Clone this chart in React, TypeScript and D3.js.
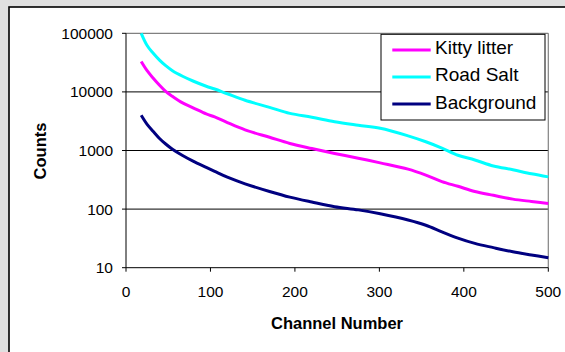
import React from "react";
import * as d3 from "d3";

const channels = [18, 25, 32, 40, 47, 55, 67, 80, 95, 105, 120, 141, 170, 194, 220, 247, 275, 301, 334, 355, 374, 393, 413, 435, 458, 480, 500];
const kittyLitter = [33000, 23000, 17300, 12900, 10200, 8400, 6500, 5300, 4200, 3750, 3000, 2250, 1680, 1320, 1080, 890, 740, 615, 480, 380, 295, 245, 200, 172, 148, 135, 125];
const roadSalt = [100000, 62000, 46000, 34500, 28000, 23000, 18500, 15200, 12500, 11200, 9300, 7200, 5450, 4300, 3700, 3100, 2700, 2400, 1780, 1410, 1100, 830, 690, 545, 470, 400, 355];
const background = [4000, 2800, 2140, 1590, 1290, 1050, 820, 650, 515, 440, 350, 270, 200, 160, 132, 110, 97, 83, 65, 53, 41, 32, 26, 22, 18.7, 16.5, 14.8];

const seriesNames = ["Kitty litter", "Road Salt", "Background"];
const seriesColors = ["#FF00FF", "#00FFFF", "#000080"];
const seriesValues = [kittyLitter, roadSalt, background];

const xTicks = [0, 100, 200, 300, 400, 500];
const yTicks = [10, 100, 1000, 10000, 100000];

const W = 565;
const H = 352;
const font = "Liberation Sans, Arial, sans-serif";

export default function App() {
  const x = d3.scaleLinear().domain([0, 500]).range([126, 548.3]);
  const y = d3.scaleLog().domain([10, 100000]).range([267.7, 33.3]);

  const line = d3
    .line<[number, number]>()
    .x((d) => x(d[0]))
    .y((d) => y(d[1]))
    .curve(d3.curveCatmullRom.alpha(0.5));

  const [x0, x1] = x.range();
  const [yb, yt] = y.range();

  return (
    <svg
      width={W}
      height={H}
      style={{ position: "absolute", left: 0, top: 0, display: "block" }}
    >
      <rect x={0} y={0} width={W} height={H} fill="#e0e0e0" />
      <rect x={9} y={7} width={W} height={H} fill="#ffffff" stroke="#000" strokeWidth={1.6} />

      {/* gridlines */}
      {yTicks.slice(1, -1).map((t) => (
        <line key={"g" + t} x1={x0} x2={x1} y1={y(t)} y2={y(t)} stroke="#000" strokeWidth={1} />
      ))}
      {/* plot border top/right */}
      <line x1={x0} x2={x1} y1={yt} y2={yt} stroke="#808080" strokeWidth={1.2} />
      <line x1={x1} x2={x1} y1={yt} y2={yb} stroke="#808080" strokeWidth={1.2} />

      {/* series */}
      {seriesValues.map((vals, i) => (
        <path
          key={seriesNames[i]}
          d={line(channels.map((c, j) => [c, vals[j]] as [number, number])) || ""}
          fill="none"
          stroke={seriesColors[i]}
          strokeWidth={3}
          strokeLinejoin="round"
        />
      ))}

      {/* axes */}
      <line x1={x0} x2={x0} y1={yt} y2={yb} stroke="#000" strokeWidth={1} />
      <line x1={x0} x2={x1} y1={yb} y2={yb} stroke="#000" strokeWidth={1} />
      {yTicks.map((t) => (
        <g key={"yt" + t}>
          <line x1={x0 - 4} x2={x0} y1={y(t)} y2={y(t)} stroke="#000" />
          <text x={113} y={y(t)} dy="0.36em" textAnchor="end" fontFamily={font} fontSize={15.5} fill="#000">
            {d3.format("d")(t)}
          </text>
        </g>
      ))}
      {xTicks.map((t) => (
        <g key={"xt" + t}>
          <line x1={x(t)} x2={x(t)} y1={yb} y2={yb + 4} stroke="#000" />
          <text x={x(t)} y={291.7} dy="0.36em" textAnchor="middle" fontFamily={font} fontSize={15.5} fill="#000">
            {t}
          </text>
        </g>
      ))}

      {/* axis titles */}
      <text x={337} y={323} dy="0.36em" textAnchor="middle" fontFamily={font} fontSize={16.5} fontWeight="bold" fill="#000">
        Channel Number
      </text>
      <text
        transform={`translate(40,151) rotate(-90)`}
        dy="0.36em"
        textAnchor="middle"
        fontFamily={font}
        fontSize={16.5}
        fontWeight="bold"
        fill="#000"
      >
        Counts
      </text>

      {/* legend */}
      <rect x={381} y={34.3} width={164} height={85.7} fill="#fff" stroke="#000" strokeWidth={1} />
      {seriesNames.map((n, i) => (
        <g key={"lg" + n}>
          <line x1={392.3} x2={430.7} y1={50 + i * 27} y2={50 + i * 27} stroke={seriesColors[i]} strokeWidth={3} />
          <text x={435} y={54 + i * 27.3} fontFamily={font} fontSize={19} fill="#000">
            {n}
          </text>
        </g>
      ))}
    </svg>
  );
}
